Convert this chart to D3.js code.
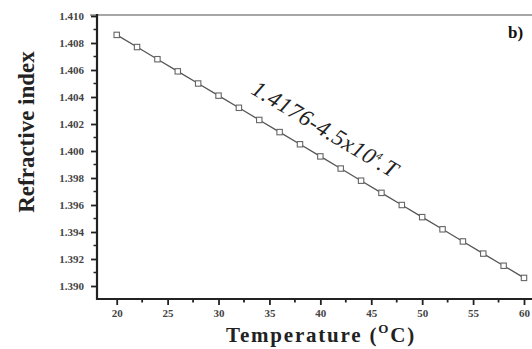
<!DOCTYPE html>
<html><head><meta charset="utf-8">
<script src="https://cdn.jsdelivr.net/npm/d3@7"></script>
<style>body{margin:0;background:#fff}svg{display:block}</style>
</head><body>
<svg id="c" width="532" height="349"></svg>
<script>
const temperatures = [20,22,24,26,28,30,32,34,36,38,40,42,44,46,48,50,52,54,56,58,60];
const refractiveIndex = [1.4086,1.4077,1.4068,1.4059,1.4050,1.4041,1.4032,1.4023,1.4014,1.4005,1.3996,1.3987,1.3978,1.3969,1.3960,1.3951,1.3942,1.3933,1.3924,1.3915,1.3906];
const xTickValues = [20,25,30,35,40,45,50,55,60];
const yTickValues = [1.390,1.392,1.394,1.396,1.398,1.400,1.402,1.404,1.406,1.408,1.410];
const xLabel = "Temperature (";
const yLabel = "Refractive index";
const annotation = "1.4176-4.5x10";

const svg = d3.select("#c");
const x = d3.scaleLinear().domain([20,60]).range([116.7,524]);
const y = d3.scaleLinear().domain([1.390,1.410]).range([286,16]);
const serif = "'Liberation Serif','Times New Roman',serif";
const axisColor = "#222";

// top border
svg.append("line").attr("x1",90).attr("x2",532).attr("y1",15).attr("y2",15)
  .attr("stroke","#888").attr("stroke-width",1.5);

// Y axis
const yAxisG = svg.append("g").attr("transform","translate(97,0)");
const yMinor = d3.range(1.389,1.4105,0.001).map(v=>+v.toFixed(3)).filter(v=>!yTickValues.some(t=>Math.abs(t-v)<1e-9) && y(v)<=299);
yAxisG.selectAll("line.minor").data(yMinor).join("line").attr("class","minor")
  .attr("x1",-3.5).attr("x2",0).attr("y1",d=>y(d)).attr("y2",d=>y(d))
  .attr("stroke",axisColor).attr("stroke-width",1.5);
yAxisG.call(d3.axisLeft(y).tickValues(yTickValues).tickFormat(d3.format(".3f")).tickSize(6).tickSizeOuter(0));
yAxisG.select(".domain").remove();
yAxisG.append("line").attr("x1",0).attr("x2",0).attr("y1",14).attr("y2",300).attr("stroke",axisColor).attr("stroke-width",2.2);
yAxisG.selectAll(".tick line").attr("stroke",axisColor).attr("stroke-width",1.8);
yAxisG.selectAll(".tick text").attr("font-family",serif).attr("font-weight","bold")
  .attr("font-size",11).attr("fill","#444").attr("x",-13);

// X axis
const xAxisG = svg.append("g").attr("transform","translate(0,299)");
const xMinor = d3.range(17.5,62,5).filter(v=>x(v)>97 && x(v)<532);
xAxisG.selectAll("line.minor").data(xMinor).join("line").attr("class","minor")
  .attr("x1",d=>x(d)).attr("x2",d=>x(d)).attr("y1",0).attr("y2",3.5)
  .attr("stroke",axisColor).attr("stroke-width",1.8);
xAxisG.call(d3.axisBottom(x).tickValues(xTickValues).tickFormat(d3.format("d")).tickSize(6).tickSizeOuter(0));
xAxisG.select(".domain").remove();
xAxisG.append("line").attr("x1",96).attr("x2",532).attr("y1",0).attr("y2",0).attr("stroke",axisColor).attr("stroke-width",2.2);
xAxisG.selectAll(".tick line").attr("stroke",axisColor).attr("stroke-width",1.8);
xAxisG.selectAll(".tick text").attr("font-family",serif).attr("font-weight","bold")
  .attr("font-size",11).attr("fill","#444").attr("y",10);

// line + markers
const pts = temperatures.map((t,i)=>[t,refractiveIndex[i]]);
svg.append("path").datum(pts)
  .attr("d",d3.line().x(d=>x(d[0])).y(d=>y(d[1])))
  .attr("fill","none").attr("stroke","#555").attr("stroke-width",1.3);
svg.selectAll("rect.m").data(pts).join("rect").attr("class","m")
  .attr("x",d=>x(d[0])-2.7).attr("y",d=>y(d[1])-2.7).attr("width",5.4).attr("height",5.4)
  .attr("fill","#fff").attr("stroke","#666").attr("stroke-width",1.1);

// axis labels
svg.append("text").attr("transform","translate(34,132) rotate(-90)")
  .attr("text-anchor","middle").attr("font-family",serif).attr("font-weight","bold")
  .attr("font-size",23).attr("fill","#222").text(yLabel);
const xl = svg.append("text").attr("x",321).attr("y",342).attr("text-anchor","middle")
  .attr("font-family",serif).attr("font-weight","bold").attr("font-size",21).attr("fill","#222")
  .attr("letter-spacing",1.8);
xl.append("tspan").text(xLabel);
xl.append("tspan").attr("dy",-9).attr("font-size",13).text("O");
xl.append("tspan").attr("dy",9).text("C)");

// annotation
const an = svg.append("text").attr("transform","translate(250,93) rotate(31)")
  .attr("font-family",serif).attr("font-style","italic").attr("font-size",23).attr("fill","#222")
  .attr("letter-spacing",0.6);
an.append("tspan").text(annotation);
an.append("tspan").attr("dy",-9).attr("font-size",11).text("4");
an.append("tspan").attr("dy",9).text(".T");

// panel label
svg.append("text").attr("x",508).attr("y",38).attr("font-family",serif).attr("font-weight","bold")
  .attr("font-size",17).attr("fill","#111").text("b)");
</script>
</body></html>
